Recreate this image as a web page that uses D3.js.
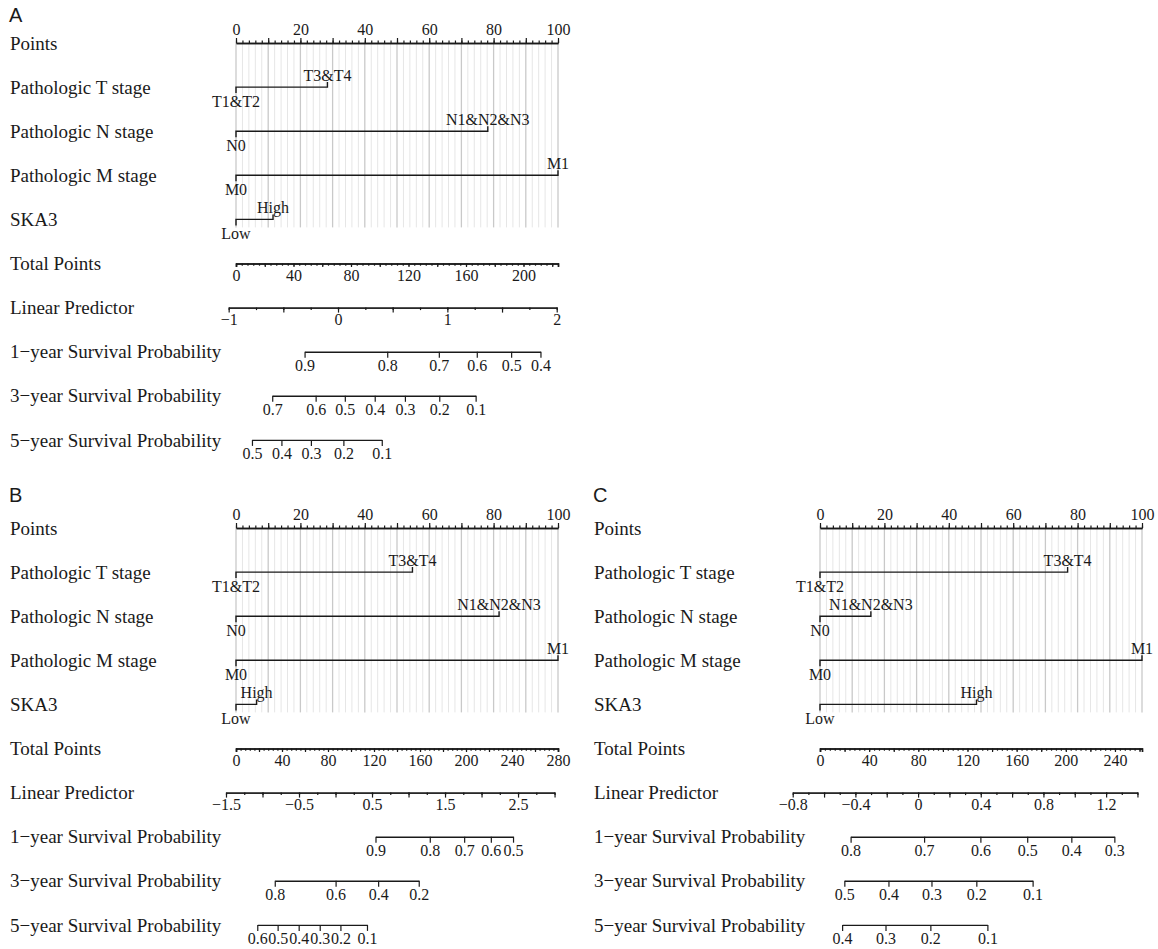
<!DOCTYPE html>
<html>
<head>
<meta charset="utf-8">
<script src="https://cdn.jsdelivr.net/npm/d3@7"></script>
<style>
  body { margin: 0; background: #fff; }
</style>
</head>
<body>
<div id="chart"></div>
<script>
// row names, shared by the three nomograms
const rowNames = ["Points", "Pathologic T stage", "Pathologic N stage", "Pathologic M stage", "SKA3",
  "Total Points", "Linear Predictor",
  "1\u2212year Survival Probability", "3\u2212year Survival Probability", "5\u2212year Survival Probability"];
const varLevels = [["T1&T2", "T3&T4"], ["N0", "N1&N2&N3"], ["M0", "M1"], ["Low", "High"]];

// points of each level (0-100), panels A, B, C
const pointsA = [[0, 28.4], [0, 78.2], [0, 100], [0, 11.5]];
const pointsB = [[0, 54.8], [0, 81.7], [0, 100], [0, 6.4]];
const pointsC = [[0, 76.9], [0, 15.8], [0, 100], [0, 48.6]];

// total points axis
const totalMax = [224, 280, 262];
const totalLabels = [[0, 40, 80, 120, 160, 200], [0, 40, 80, 120, 160, 200, 240, 280], [0, 40, 80, 120, 160, 200, 240]];

// linear predictor: end values, where they sit in total points, labelled ticks
const lpEnds = [[-1, 2], [-1.5, 3], [-0.8, 1.4]];
const lpEndsTP = [[-5.1, 223.1], [-8.7, 277], [-22.2, 258.3]];
const lpLabels = [[-1, 0, 1, 2], [-1.5, -0.5, 0.5, 1.5, 2.5], [-0.8, -0.4, 0, 0.4, 0.8, 1.2]];
const lpMajorStep = [0.5, 0.5, 0.2];

// survival probability ticks (1, 3, 5 year) and their total points position
const survA = [[0.9, 0.8, 0.7, 0.6, 0.5, 0.4], [0.7, 0.6, 0.5, 0.4, 0.3, 0.2, 0.1], [0.5, 0.4, 0.3, 0.2, 0.1]];
const survTPA = [[47.7, 105.2, 141.1, 167.5, 191.4, 211.8], [25.2, 55.4, 75.7, 96.5, 117.5, 141.4, 166.7], [11.1, 31.6, 52.1, 74.7, 101.4]];
const survB = [[0.9, 0.8, 0.7, 0.6, 0.5], [0.8, 0.6, 0.4, 0.2], [0.6, 0.5, 0.4, 0.3, 0.2, 0.1]];
const survTPB = [[121.3, 168.5, 198.4, 221.6, 240.9], [33.7, 86.6, 123.6, 158.9], [18.5, 36.2, 54.5, 72.8, 90.8, 113.9]];
const survC = [[0.8, 0.7, 0.6, 0.5, 0.4, 0.3], [0.5, 0.4, 0.3, 0.2, 0.1], [0.4, 0.3, 0.2, 0.1]];
const survTPC = [[24.9, 84.7, 130.5, 168.6, 204.5, 239.5], [19.8, 55.7, 90.7, 127.2, 173], [18, 53.3, 89.8, 136.2]];

(function nomograms(){
  let width = 1158, height = 949;
  const serif = "'Liberation Serif', 'Times New Roman', serif";
  const ink = "#1a1a1a";
  const tickFont = 16, rowFont = 19;

  const svg = d3.select("#chart")
    .append("svg")
    .attr("width", width)
    .attr("height", height)
    .attr("viewBox", [0, 0, width, height]);

  svg.append("rect").attr("width", width).attr("height", height).attr("fill", "#fff");

  const panels = [
    {letter: "A", dx: 0, dy: 0, letterY: 22, pts: pointsA, i: 0, surv: survA, survTP: survTPA},
    {letter: "B", dx: 0, dy: 485, letterY: 17, pts: pointsB, i: 1, surv: survB, survTP: survTPB},
    {letter: "C", dx: 584, dy: 485, letterY: 17, pts: pointsC, i: 2, surv: survC, survTP: survTPC}
  ];

  // rows are evenly spaced
  const rowY = d3.range(10).map(k => 43 + 44.1 * k);
  const x0 = 236, x1 = 558;

  const steps = (a, b, s) => d3.range(0, Math.round((b - a) / s) + 1).map(k => +(a + k * s).toFixed(4));

  function styleAxis(g) {
    g.attr("font-family", serif).attr("font-size", tickFont).attr("color", ink);
    g.select(".domain").attr("stroke-width", 1.4);
    g.selectAll(".tick line").attr("stroke-width", 1.2);
  }

  panels.forEach(p => {
    const g = svg.append("g").attr("transform", `translate(${p.dx},${p.dy})`);

    g.append("text")
      .attr("x", 9).attr("y", p.letterY)
      .attr("font-family", "'Liberation Sans', Arial, sans-serif")
      .attr("font-size", 20)
      .attr("fill", ink)
      .text(p.letter);

    // Row labels
    g.selectAll("text.row")
      .data(rowNames)
      .join("text")
      .classed("row", true)
      .attr("x", 10)
      .attr("y", (d, k) => rowY[k])
      .attr("dy", "0.35em")
      .attr("font-family", serif)
      .attr("font-size", rowFont)
      .attr("fill", ink)
      .text(d => d);

    const xPts = d3.scaleLinear().domain([0, 100]).range([x0, x1]);

    // Grid lines
    const grid = g.append("g");
    grid.selectAll("line.minor")
      .data(d3.range(0, 101, 2).filter(d => d % 10 !== 0))
      .join("line")
      .attr("x1", d => xPts(d)).attr("x2", d => xPts(d))
      .attr("y1", rowY[0]).attr("y2", rowY[4] + 8)
      .attr("stroke", "#e6e6e6").attr("stroke-width", 1);
    grid.selectAll("line.major")
      .data(d3.range(0, 101, 10))
      .join("line")
      .attr("x1", d => xPts(d)).attr("x2", d => xPts(d))
      .attr("y1", rowY[0]).attr("y2", rowY[4] + 8)
      .attr("stroke", "#c9c9c9").attr("stroke-width", 1.3);

    // Points axis
    const ptsMinor = g.append("g")
      .attr("transform", `translate(0,${rowY[0]})`)
      .call(d3.axisTop(xPts).tickValues(d3.range(0, 101, 2)).tickSize(2.5).tickSizeOuter(0).tickFormat(""));
    styleAxis(ptsMinor);
    const ptsMajor = g.append("g")
      .attr("transform", `translate(0,${rowY[0]})`)
      .call(d3.axisTop(xPts).tickValues(d3.range(0, 101, 10)).tickSize(5).tickSizeOuter(0).tickPadding(3)
        .tickFormat(d => d % 20 === 0 ? d : ""));
    styleAxis(ptsMajor);

    // Predictor rows
    p.pts.forEach((lv, k) => {
      const y = rowY[k + 1];
      const xa = xPts(lv[0]), xb = xPts(lv[1]);
      g.append("path")
        .attr("d", `M${xa},${y + 6}V${y}H${xb}V${y - 5}`)
        .attr("fill", "none")
        .attr("stroke", ink)
        .attr("stroke-width", 1.4);
      g.append("text")
        .attr("x", xa).attr("y", y + 14).attr("dy", "0.35em")
        .attr("text-anchor", "middle")
        .attr("font-family", serif).attr("font-size", tickFont).attr("fill", ink)
        .text(varLevels[k][0]);
      g.append("text")
        .attr("x", xb).attr("y", y - 12).attr("dy", "0.35em")
        .attr("text-anchor", "middle")
        .attr("font-family", serif).attr("font-size", tickFont).attr("fill", ink)
        .text(varLevels[k][1]);
    });

    // Total points
    const tMax = totalMax[p.i];
    const xTot = d3.scaleLinear().domain([0, tMax]).range([x0, x1]);
    const totMinor = g.append("g")
      .attr("transform", `translate(0,${rowY[5]})`)
      .call(d3.axisBottom(xTot).tickValues(steps(0, tMax - tMax % 4, 4)).tickSize(2.2).tickSizeOuter(3.5).tickFormat(""));
    styleAxis(totMinor);
    const totMajor = g.append("g")
      .attr("transform", `translate(0,${rowY[5]})`)
      .call(d3.axisBottom(xTot).tickValues(steps(0, tMax - tMax % 20, 20)).tickSize(3.5).tickSizeOuter(3.5).tickPadding(3)
        .tickFormat(d => totalLabels[p.i].includes(d) ? d : ""));
    styleAxis(totMajor);

    // Linear predictor
    const lp = lpEnds[p.i];
    const xLP = d3.scaleLinear().domain(lp).range(lpEndsTP[p.i].map(xTot));
    const lpStep = lpMajorStep[p.i];
    const lpMinor = g.append("g")
      .attr("transform", `translate(0,${rowY[6]})`)
      .call(d3.axisBottom(xLP).tickValues(steps(lp[0], lp[1], lpStep / 2)).tickSize(2.5).tickSizeOuter(0).tickFormat(""));
    styleAxis(lpMinor);
    const lpMajor = g.append("g")
      .attr("transform", `translate(0,${rowY[6]})`)
      .call(d3.axisBottom(xLP).tickValues(steps(lp[0], lp[1], lpStep)).tickSize(5).tickSizeOuter(0).tickPadding(1.5)
        .tickFormat(d => {
          const lab = lpLabels[p.i].find(v => Math.abs(v - d) < 1e-6);
          return lab === undefined ? "" : d3.format("")(lab);
        }));
    styleAxis(lpMajor);

    // Survival probabilities
    p.surv.forEach((probs, k) => {
      const xS = d3.scaleLinear().domain(probs).range(p.survTP[k].map(xTot));
      const ax = g.append("g")
        .attr("transform", `translate(0,${rowY[7 + k]})`)
        .call(d3.axisBottom(xS).tickValues(probs).tickSize(6).tickSizeOuter(0).tickPadding(2)
          .tickFormat(d => String(d)));
      styleAxis(ax);
    });
  });

  return svg.node();
})();
</script>
</body>
</html>
